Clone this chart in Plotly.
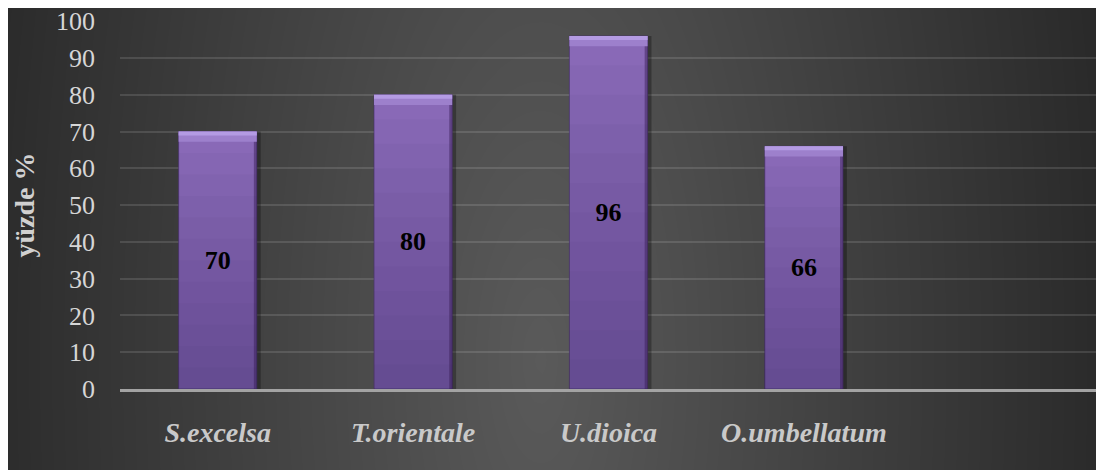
import numpy as np
import plotly.graph_objects as go

# ---- data ----
categories = ["S.excelsa", "T.orientale", "U.dioica", "O.umbellatum"]
values = [70, 80, 96, 66]
y_ticks = [0, 10, 20, 30, 40, 50, 60, 70, 80, 90, 100]
y_title = "yüzde %"

W, H = 1104, 470
OFF = 8  # page body margin offset
SERIF = "Liberation Serif, Times New Roman, serif"


def px(v):
    return v - OFF


# ---- background radial gradient (styling only) ----
nx, ny = 140, 60
x0p, x1p, y0p, y1p = 0, px(1099), 0, H
xs = np.linspace(x0p, x1p, nx)
ys = np.linspace(y0p, y1p, ny)
XX, YY = np.meshgrid(xs, ys)
cx, cy, ax_, ay_ = px(540), px(360), 600, 1500
r = np.sqrt(((XX - cx) / ax_) ** 2 + ((YY - cy) / ay_) ** 2)
bgz = np.clip(1 - r, 0, 1)

fig = go.Figure()
fig.add_trace(go.Heatmap(
    z=bgz, x=xs, y=ys, zsmooth="best", showscale=False, hoverinfo="skip",
    colorscale=[[0, "#272727"], [1, "#5a5a5a"]], zmin=0, zmax=1,
    xaxis="x", yaxis="y",
))

bw = 0.4
# soft shadow
fig.add_trace(go.Bar(
    x=categories, y=values, width=bw, offset=-bw / 2 + 0.02,
    marker=dict(color="rgba(0,0,0,0.3)", line=dict(width=0)),
    xaxis="x2", yaxis="y2", hoverinfo="skip",
))
# body
fig.add_trace(go.Bar(
    x=categories, y=values, width=bw,
    marker=dict(color="#8969b7", line=dict(width=1, color="rgba(70,45,110,0.6)")),
    xaxis="x2", yaxis="y2", hoverinfo="skip",
))
steps = 12
for k in range(1, steps):
    frac = 1 - k / steps
    fig.add_trace(go.Bar(
        x=categories, y=[v * frac for v in values], width=bw,
        marker=dict(color="rgba(20,0,40,0.025)", line=dict(width=0)),
        xaxis="x2", yaxis="y2", hoverinfo="skip",
    ))
# right dark edge
fig.add_trace(go.Bar(
    x=categories, y=values, width=0.015, offset=bw / 2 - 0.015,
    marker=dict(color="rgba(50,25,80,0.45)", line=dict(width=0)),
    xaxis="x2", yaxis="y2", hoverinfo="skip",
))
# top bevel
bev = 2.8
fig.add_trace(go.Bar(
    x=categories, y=[bev] * len(values), base=[v - bev for v in values], width=bw,
    marker=dict(color="#9d80cc", line=dict(width=0)),
    xaxis="x2", yaxis="y2", hoverinfo="skip",
))
fig.add_trace(go.Bar(
    x=categories, y=[1.1] * len(values), base=[v - 1.1 for v in values], width=bw,
    marker=dict(color="#b49be3", line=dict(width=0)),
    xaxis="x2", yaxis="y2", hoverinfo="skip",
))
# labels
fig.add_trace(go.Bar(
    x=categories, y=values, width=bw,
    marker=dict(color="rgba(0,0,0,0)", line=dict(width=0)),
    text=[str(v) for v in values], textposition="inside", insidetextanchor="middle",
    textfont=dict(family=SERIF, size=26, color="black", weight="bold"),
    textangle=0,
    xaxis="x2", yaxis="y2", hoverinfo="skip",
))

fig.update_layout(
    width=W, height=H,
    margin=dict(l=0, r=0, t=0, b=0, pad=0),
    paper_bgcolor="white",
    plot_bgcolor="rgba(0,0,0,0)",
    showlegend=False,
    barmode="overlay",
    hovermode=False,
    xaxis=dict(domain=[x0p / W, x1p / W], range=[x0p, x1p], visible=False,
               fixedrange=True, automargin=False),
    yaxis=dict(domain=[1 - y1p / H, 1 - y0p / H], range=[y1p, y0p], visible=False,
               fixedrange=True, automargin=False),
    xaxis2=dict(
        domain=[px(120) / W, px(1097) / W], anchor="y2", type="category", automargin=False,
        range=[-0.5, 4.5], showgrid=False, zeroline=False,
        showline=True, linecolor="#a3a3a3", linewidth=2.5,
        ticks="", ticklabelstandoff=17, ticklabeloverflow="allow",
        tickfont=dict(family=SERIF, size=28, color="#c9c9c9", style="italic", weight="bold"),
    ),
    yaxis2=dict(
        domain=[1 - px(389) / H, 1 - px(21) / H], anchor="x2", automargin=False,
        range=[0, 100.05], tickvals=y_ticks, ticktext=[str(t) for t in y_ticks],
        showgrid=True, gridcolor="rgba(255,255,255,0.12)", gridwidth=1.5,
        zeroline=False, showline=False, ticks="", ticklabelstandoff=24,
        ticklabeloverflow="allow",
        tickfont=dict(family=SERIF, size=26, color="#d6d6d6"),
        title=dict(text=y_title, standoff=13,
                   font=dict(family=SERIF, size=28, color="#d0d0d0", weight="bold")),
    ),
)

fig.write_html("out.html")
